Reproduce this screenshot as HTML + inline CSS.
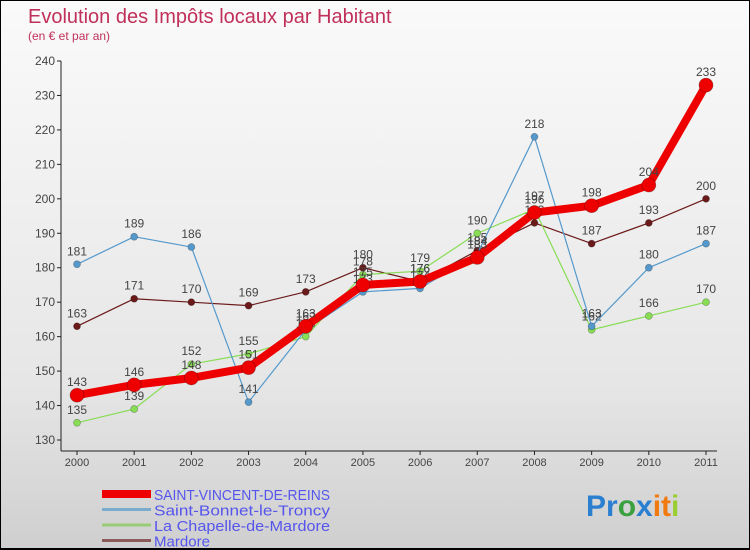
<!DOCTYPE html>
<html><head><meta charset="utf-8"><style>
body{margin:0}
#c{width:750px;height:550px;position:relative;background:linear-gradient(#fafafa,#e6e6e6 70%,#cfcfcf);box-sizing:border-box;border:1px solid #000;border-bottom:2px solid #000;overflow:hidden;font-family:"Liberation Sans",sans-serif}
</style></head><body>
<div id="c">
<svg id="s" width="750" height="550" style="position:absolute;left:0;top:0">
<text x="27" y="22" font-size="20" fill="#c0305a">Evolution des Impôts locaux par Habitant</text>
<text x="27" y="39" font-size="12" fill="#c0305a">(en € et par an)</text>
<g id="g"></g>
<g id="lg"></g>
<text x="585" y="515" font-size="30" font-weight="bold"><tspan fill="#2a7fd0">Pr</tspan><tspan fill="#3aa040">o</tspan><tspan fill="#2a7fd0">x</tspan><tspan fill="#f07a10">it</tspan><tspan fill="#9acd32">i</tspan></text>
</svg>
</div>
<script>
const years=[2000,2001,2002,2003,2004,2005,2006,2007,2008,2009,2010,2011];
const yTicks=[130,140,150,160,170,180,190,200,210,220,230,240];
const svr=[143,146,148,151,163,175,176,183,196,198,204,233];
const sbt=[181,189,186,141,162,173,174,184,218,163,180,187];
const lcm=[135,139,152,155,160,178,179,190,197,162,166,170];
const mar=[163,171,170,169,173,180,176,185,193,187,193,200];
const names=["SAINT-VINCENT-DE-REINS","Saint-Bonnet-le-Troncy","La Chapelle-de-Mardore","Mardore"];
const NS="http://www.w3.org/2000/svg";
const g=document.getElementById('g');
const X=i=>76+i*(705-76)/11;
const Y=v=>439-(v-130)*(439-60)/110;
function mk(t,a,p){const e=document.createElementNS(NS,t);for(const k in a)e.setAttribute(k,a[k]);(p||g).appendChild(e);return e;}
const ax=mk('line',{x1:60,y1:60,x2:60,y2:450,stroke:'#222'});


const bx=mk('line',{x1:60,y1:450,x2:716,y2:450,stroke:'#222'});


yTicks.forEach(v=>{
 mk('line',{x1:56,y1:Y(v),x2:60,y2:Y(v),stroke:'#222'});
 const t=mk('text',{x:54,y:Y(v)+4,'font-size':12,fill:'#444','text-anchor':'end'});t.textContent=v;
 
 
});
years.forEach((yr,i)=>{
 mk('line',{x1:X(i),y1:450,x2:X(i),y2:454,stroke:'#222'});
 const t=mk('text',{x:X(i),y:465,'font-size':11,fill:'#444','text-anchor':'middle'});t.textContent=yr;
 
 
});
const series=[
 {d:mar,c:'#6b1a1a',w:1.2,r:3.5,n:'mardore'},
 {d:lcm,c:'#88dd55',w:1.2,r:3.5,n:'la-chapelle'},
 {d:sbt,c:'#5599cc',w:1.2,r:3.5,n:'saint-bonnet'},
 {d:svr,c:'#ee0000',w:8,r:7,n:'saint-vincent'}];
series.forEach(s=>{
 const p=mk('polyline',{points:s.d.map((v,i)=>X(i)+','+Y(v)).join(' '),fill:'none',stroke:s.c,'stroke-width':s.w,'stroke-linejoin':'round'});
 
 
 s.d.forEach((v,i)=>{
  const c=mk('circle',{cx:X(i),cy:Y(v),r:s.r,fill:s.c,stroke:'rgba(0,0,0,0.3)','stroke-width':0.7});
  
  
  const t=mk('text',{x:X(i),y:Y(v)-9,'font-size':12,fill:'#444','text-anchor':'middle'});t.textContent=v;
  
  
 });
});
const lg=document.getElementById('lg');
const lc=['#ee0000','#7aaacc','#99cc77','#8b5a5a'],lw=[8,3,3,3];
names.forEach((n,i)=>{
 const y=493+i*15.5;
 mk('line',{x1:101,y1:y,x2:150,y2:y,stroke:lc[i],'stroke-width':lw[i]},lg);
 const t=mk('text',{x:153,y:y+6,'font-size':15,fill:'#5555ee','textLength':n.length*8,'lengthAdjust':'spacingAndGlyphs'},lg);t.textContent=n;
 
 
});
</script>
</body></html>
